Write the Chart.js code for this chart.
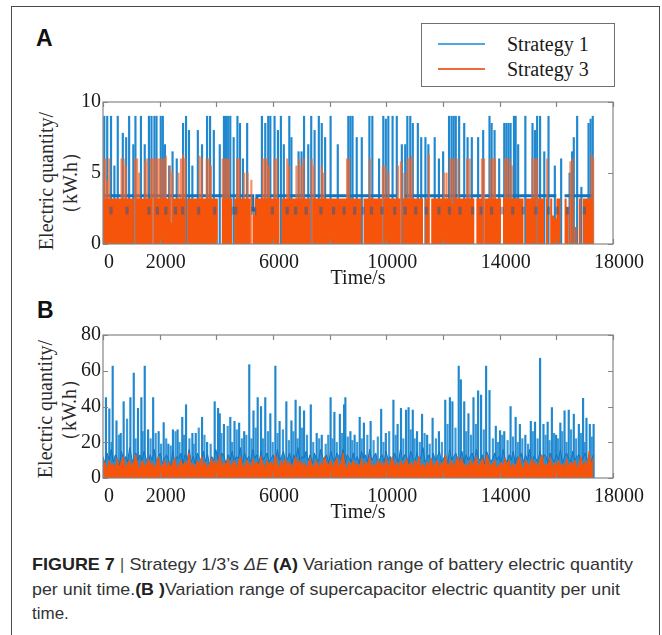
<!DOCTYPE html>
<html lang="en">

<head>
    <meta charset="UTF-8" />
    <title>Figure 7 - Strategy 1/3 ΔE</title>
    <script src="https://cdn.jsdelivr.net/npm/chart.js"></script>
    <style>
        body {
            margin: 0;
            background: #ffffff;
            width: 662px;
            height: 635px;
            overflow: hidden;
            position: relative;
            font-family: "Liberation Serif", serif;
        }

        #fig {
            position: absolute;
            left: 11px;
            top: 6px;
            width: 647px;
            height: 660px;
            border: 1.5px solid #4a4a4a;
        }

        .plabel {
            position: absolute;
            font: bold 23px/23px "Liberation Sans", Arial, sans-serif;
            color: #111;
        }

        .box {
            position: absolute;
            left: 20px;
            width: 640px;
        }

        .ytitle {
            position: absolute;
            font-size: 20px;
            line-height: 20px;
            color: #2a2a2a;
            white-space: nowrap;
            transform: translate(-50%, -50%) rotate(-90deg);
        }

        #legend {
            position: absolute;
            left: 421px;
            top: 23px;
            width: 192px;
            height: 62px;
            border: 1px solid #707070;
            background: #fff;
        }

        .lrow {
            position: absolute;
            left: 0;
            height: 24px;
            width: 190px;
        }

        .lline {
            position: absolute;
            left: 16px;
            top: 11px;
            width: 47px;
            height: 2px;
        }

        .ltext {
            position: absolute;
            left: 85px;
            top: 0;
            font-size: 20px;
            line-height: 24px;
            color: #1a1a1a;
        }

        .cap {
            position: absolute;
            left: 32px;
            font: 17px/20px "Liberation Sans", Arial, sans-serif;
            color: #333;
            white-space: nowrap;
            transform-origin: left center;
        }

        .cap b {
            color: #222;
        }

        .cap .bar {
            color: #555;
            font-weight: normal;
        }
    </style>
</head>

<body>
    <div id="fig"></div>
    <div class="plabel" style="left:36px;top:27px">A</div>
    <div class="plabel" style="left:37px;top:299px">B</div>
    <div id="legend"></div>

    <div class="ytitle" style="left:46px;top:181px">Electric quantity/</div>
    <div class="ytitle" style="left:70px;top:183px">（kW.h）</div>
    <div class="ytitle" style="left:45px;top:409px">Electric quantity/</div>
    <div class="ytitle" style="left:69px;top:410px">（kW.h）</div>

    <div class="box" style="top:88px;height:205px"><canvas id="chartA"></canvas></div>
    <div class="box" style="top:321px;height:206px"><canvas id="chartB"></canvas></div>

    <div class="cap" data-w="601" style="top:555px"><b>FIGURE 7</b> <span class="bar">|</span> Strategy 1/3’s <i>ΔE</i> <b>(A)</b> Variation range of battery electric quantity</div>
    <div class="cap" data-w="588" style="top:580px">per unit time.<b>(B )</b>Variation range of supercapacitor electric quantity per unit</div>
    <div class="cap" style="top:604px">time.</div>

    <script>
        // ---- data ----
        const seriesNames = ["Strategy 1", "Strategy 3"];
        const xTickLabels = [0, 2000, 6000, 10000, 14000, 18000];
        const sampleStep = 72.4; // s between samples of the level arrays below

        // (A) battery: Strategy 1 spikes (time s, kW.h)
        const aS1SpikeT = [45, 149, 283, 402, 521, 699, 818, 922, 1071, 1145,
            1339, 1473, 1621, 1711, 1815, 1889, 2038, 2112, 2187, 2336,
            2455, 2603, 2826, 2931, 3035, 3154, 3347, 3496, 3674, 3779,
            3912, 4121, 4269, 4344, 4418, 4493, 4612, 4745, 4835, 4939,
            5088, 5608, 5727, 5831, 5906, 6055, 6174, 6278, 6382, 6575,
            6650, 6902, 7007, 7096, 7245, 7349, 7468, 7617, 7721, 7840,
            8033, 8286, 8658, 8732, 8807, 8955, 9134, 9402, 9506, 9744,
            9893, 9982, 10071, 10220, 10369, 10547, 10666, 10741, 10845, 10934,
            11112, 11231, 11380, 11484, 11707, 11856, 12005, 12213, 12302, 12377,
            12451, 12570, 12749, 12868, 13017, 13240, 13418, 13641, 13716, 13820,
            13983, 14162, 14236, 14311, 14385, 14504, 14564, 14653, 14906, 15159,
            15248, 15322, 15427, 15575, 15724, 15947, 16170, 16468, 16557, 16616,
            16735, 16884, 17137, 17211, 17286];
        const aS1SpikeV = [9, 9, 9, 5.5, 9, 7.8, 7.5, 9, 7, 9,
            9, 7, 9, 9, 9, 9, 9, 9, 7, 5.5,
            6.5, 6, 8.5, 9, 8, 5.5, 8, 7, 9, 9,
            8, 7, 9, 9, 9, 9, 7.5, 9, 8.5, 6,
            8.5, 9, 8.5, 9, 9, 9, 8, 9, 7, 9,
            7.5, 6.5, 6.5, 9, 7, 9, 8, 9, 8.5, 7.5,
            9, 7, 9, 9, 9, 7.5, 7.5, 9, 9, 6,
            9, 8.8, 9, 9, 9, 7, 7, 9, 9, 8.5,
            8.5, 7.5, 7.5, 7, 7.5, 6, 6.5, 9, 9, 9,
            9, 9, 8.5, 7.5, 7.5, 7.5, 8, 9, 8.5, 8,
            6, 8.5, 8.5, 8.5, 8.5, 9, 9, 7, 9, 8.5,
            8, 9, 9, 6.5, 9, 5.5, 6, 5, 6.5, 7.5,
            9, 4, 8.5, 8.8, 9];
        // Strategy 1 plateau level
        const aS1Level = [3.4, 3.4, 3.4, 3.4, 3.4, 3.4, 3.4, 3.4, 3.4, 3.4, 3.4, 3.4, 3.4, 3.4, 3.4, 3.4, 3.4, 3.4, 3.4, 3.4,
            3.4, 3.4, 3.4, 3.4, 3.4, 3.4, 3.4, 3.4, 3.4, 3.4, 3.4, 3.4, 3.4, 3.4, 3.4, 3.4, 3.4, 3.4, 3.4, 3.4,
            3.4, 3.4, 3.4, 3.4, 3.4, 3.4, 3.4, 3.4, 3.4, 3.4, 3.4, 3.4, 3.4, 3.4, 3.4, 3.4, 3.4, 3.4, 3.4, 3.4,
            3.4, 3.4, 3.4, 3.4, 3.4, 3.4, 3.4, 3.4, 3.4, 3.4, 3.4, 3.4, 3.4, 2.4, 2.4, 3.4, 3.4, 3.4, 3.4, 3.4,
            3.4, 3.4, 3.4, 3.4, 3.4, 3.4, 3.4, 3.4, 3.4, 3.4, 3.4, 3.4, 3.4, 3.4, 3.4, 3.4, 3.4, 3.4, 3.4, 3.4,
            3.4, 3.4, 3.4, 3.4, 3.4, 3.4, 3.4, 3.4, 3.4, 3.4, 3.4, 3.4, 3.4, 3.4, 3.4, 3.4, 3.4, 3.4, 3.4, 3.4,
            3.4, 3.4, 3.4, 3.4, 3.4, 3.4, 3.4, 3.4, 3.4, 3.4, 3.4, 3.4, 3.4, 3.4, 3.4, 3.4, 3.4, 3.4, 3.4, 3.4,
            3.4, 3.4, 3.4, 3.4, null, null, null, 3.4, 3.4, 3.4, 3.4, 3.4, 3.4, 3.4, 3.4, 3.4, 3.4, 3.4, 3.4, 3.4,
            3.4, 3.4, 3.4, 3.4, 3.4, 3.4, 3.4, 3.4, 3.4, 3.4, 3.4, 3.4, 3.4, 3.4, 3.4, 3.4, 3.4, 3.4, 3.4, 3.4,
            3.4, 3.4, 3.4, 3.4, 3.4, 3.4, 3.4, 3.4, 3.4, 3.4, 3.4, 3.4, 3.4, 3.4, 3.4, 3.4, 3.4, 3.4, 3.4, 3.4,
            3.4, 3.4, 3.4, 3.4, 3.4, 3.4, 3.4, 3.4, 3.4, 3.4, 3.4, 3.4, 3.4, 3.4, 3.4, 3.4, 3.4, 3.4, 3.4, 3.4,
            3.4, 3.4, null, null, null, 3.4, 3.4, 3.4, 3.4, 3.4, 3.4, 3.4, 3.4, 3.4, 3.4, 3.4, 3.4, 3.4, 3.4, 3.4];
        // Strategy 1 dips seen through the Strategy 3 band (time s)
        const aS1DipT = [283, 848, 1621, 1919, 2217, 2559, 2812, 3377, 3942, 4597, 4686, 5281, 5355, 5980,
            6501, 6798, 7170, 7691, 8137, 8509, 8881, 9178, 9476, 9848, 10294, 10666, 11038, 11410,
            11856, 12228, 12600, 13046, 13344, 13716, 14088, 14460, 14832, 15278, 15724, 16021, 16393, 16988];
        const aS1DipRange = [2.1, 2.6];

        // (A) battery: Strategy 3 spikes and level
        const aS3SpikeT = [30, 89, 149, 223, 655, 729, 803, 1131, 1205, 1279,
            1488, 1562, 1696, 1770, 1845, 1919, 1993, 2068, 2142, 2217,
            2365, 2440, 2663, 2752, 2826, 2901, 3407, 3481, 3659, 3734,
            3808, 4225, 4299, 4374, 4448, 4731, 4805, 4983, 5102, 5236,
            5638, 5712, 5787, 5861, 6055, 6129, 6501, 6561, 6828, 6917,
            7007, 7081, 7364, 7438, 7721, 7795, 8613, 8687, 9416, 9878,
            9967, 10071, 10413, 10517, 10636, 10755, 10830, 10904, 11499, 12035,
            12124, 12258, 12332, 12406, 12540, 12853, 12942, 13374, 13448, 13671,
            13760, 13835, 14192, 14266, 14355, 14430, 15159, 15248, 15322, 15679,
            16497, 16572, 17241, 17300];
        const aS3SpikeV = [6, 6, 4.5, 6, 6, 6, 5.5, 6, 6, 5,
            5.8, 6, 6, 6, 6, 6, 6, 6, 6, 6.2,
            5.5, 5, 5, 6, 6.3, 6, 6.2, 6, 6, 6,
            5.5, 6, 6, 6, 6, 6, 6, 5, 5, 4.5,
            6, 6, 6, 5.5, 6, 6, 6, 5.5, 5.5, 6,
            5.5, 6, 6, 5.5, 5.5, 5, 6, 6, 6, 5.5,
            5.5, 5, 5.5, 5.8, 5, 6, 6, 6.2, 6.3, 5,
            5, 6, 6, 6, 6, 6, 6, 6, 6, 6,
            6, 6, 6, 6, 6, 5.5, 6, 6, 6, 6,
            5.8, 6, 6.3, 6];
        const aS3Level = [3.2, 3.2, 3.2, 3.2, 3.2, 3.2, 3.2, 3.2, 3.2, 3.2, 3.2, 3.2, 3.2, 3.2, 3.2, 0, 3.2, 3.2, 3.2, 3.2,
            3.2, 3.2, 3.2, 3.2, 0, 3.2, 3.2, 3.2, 3.2, 3.2, 3.2, 3.2, 3.2, 1.5, 3.2, 3.2, 3.2, 3.2, 3.2, 3.2,
            0, 3.2, 3.2, 3.2, 3.2, 3.2, 3.2, 3.2, 3.2, 3.2, 3.2, 3.2, 3.2, 3.2, 3.2, 3.2, 0, 0, 3.2, 3.2,
            3.2, 3.2, 3.2, 0, 3.2, 3.2, 3.2, 3.2, 3.2, 3.2, 3.2, 3.2, 0, 2.1, 3.2, 3.2, 3.2, 3.2, 3.2, 3.2,
            3.2, 3.2, 3.2, 3.2, 3.2, 3.2, 0, 3.2, 3.2, 3.2, 3.2, 3.2, 3.2, 3.2, 3.2, 3.2, 3.2, 3.2, 3.2, 3.2,
            3.2, 0, 3.2, 3.2, 3.2, 3.2, 3.2, 3.2, 3.2, 3.2, 3.2, 3.2, 3.2, 3.2, 3.2, 3.2, 3.2, 3.2, 3.2, 3.2,
            3.2, 3.2, 3.2, 3.2, 3.2, 3.2, 0, 3.2, 3.2, 3.2, 3.2, 3.2, 3.2, 3.2, 3.2, 3.2, 0, 3.2, 3.2, 3.2,
            3.2, 3.2, 3.2, 3.2, 3.2, 0, 3.2, 3.2, 3.2, 3.2, 3.2, 3.2, 3.2, 3.2, 3.2, 3.2, 0, 3.2, 3.2, 0,
            3.2, 3.2, 3.2, 3.2, 3.2, 3.2, 3.2, 3.2, 3.2, 3.2, 2.8, 3.2, 3.2, 3.2, 3.2, 3.2, 3.2, 3.2, 3.2, 3.2,
            3.2, 0, 3.2, 3.2, 3.2, 0, 3.2, 3.2, 3.2, 3.2, 3.2, 3.2, 3.2, 3.2, 0, 3.2, 3.2, 3.2, 3.2, 3.2,
            3.2, 3.2, 3.2, 3.2, 3.2, 0, 3.2, 3.2, 3.2, 3.2, 3.2, 0, 3.2, 3.2, 3.2, 0, 3.2, 0, 3.2, 2.0,
            1.8, 3.2, 3.2, 0, 0, 3.2, 2.6, 0, 3.2, 0, 1.2, 0, 3.2, 0, 3.2, 3.2, 3.2, 3.2, 3.2, 3.2];

        // (B) supercapacitor: Strategy 1 spikes (tall and medium) and running level
        const bS1SpikeT = [104, 223, 342, 476, 625, 729, 967, 1086, 1235, 1354,
            1473, 1592, 1770, 1964, 2142, 2306, 2469, 2633, 2797, 2931,
            3154, 3273, 3496, 3674, 3942, 4061, 4121, 4269, 4493, 4641,
            4805, 4983, 5162, 5311, 5460, 5578, 5727, 5906, 6084, 6233,
            6471, 6650, 6798, 6947, 7096, 7334, 7542, 7721, 8033, 8167,
            8360, 8509, 8554, 8732, 8881, 9060, 9208, 9446, 9818, 9982,
            10250, 10398, 10517, 10696, 10785, 10934, 11083, 11261, 11440, 11633,
            11856, 12079, 12243, 12332, 12555, 12630, 12749, 12898, 13076, 13240,
            13344, 13522, 13641, 13864, 14013, 14162, 14385, 14564, 14713, 14906,
            15099, 15248, 15427, 15546, 15694, 15843, 15992, 16141, 16290, 16438,
            16617, 16795, 16944, 17063, 17182, 17316];
        const bS1SpikeV = [45, 38.7, 62.6, 32, 25, 42.7, 45, 58.7, 39, 45,
            62.6, 27, 45, 26, 31, 19, 27, 27, 34, 41,
            25, 25, 34, 20, 42.7, 39, 36, 30, 34, 31.7,
            30.8, 26, 63.4, 37.6, 45, 40, 45, 36, 62.6, 31.7,
            42.7, 32, 43.6, 40, 37.6, 41, 25, 24, 45, 36.8,
            35.7, 41, 45, 26, 24, 34, 30.8, 31.7, 38.5, 25,
            43.6, 30, 39, 38, 39.4, 38, 26, 35.7, 24, 33.5,
            26, 43.6, 45, 42.7, 62.6, 55, 42.7, 36, 45, 48.8,
            46.4, 62.6, 49, 29, 26.5, 26, 40, 34, 30, 24,
            31.7, 31.3, 67, 30, 31.3, 39.4, 24, 30.8, 37.6, 38,
            35.7, 30, 44.6, 33.5, 30, 30];
        const bS1MidT = [300, 560, 850, 1150, 1400, 1680, 1860, 2050, 2230, 2390,
            2560, 2700, 2860, 3050, 3200, 3380, 3580, 3800, 4180, 4400,
            4560, 4720, 4900, 5060, 5240, 5390, 5650, 5820, 5990, 6160,
            6350, 6560, 6720, 6870, 7020, 7200, 7420, 7630, 7860, 7950,
            8100, 8250, 8440, 8640, 8800, 8970, 9130, 9330, 9550, 9700,
            9900, 10100, 10330, 10600, 10860, 11000, 11180, 11350, 11530, 11750,
            11960, 12160, 12440, 12820, 12990, 13160, 13440, 13760, 13940, 14090,
            14280, 14470, 14640, 14800, 15000, 15170, 15340, 15620, 15760, 15920,
            16060, 16210, 16360, 16520, 16700, 16870, 17000, 17250];
        const bS1MidV = [20, 24, 33, 22, 26, 22, 25, 19, 22, 18,
            26, 20, 24, 22, 19, 28, 24, 19, 25, 29,
            20, 27, 22, 24, 22, 28, 22, 26, 20, 25,
            27, 21, 26, 22, 28, 24, 20, 22, 19, 24,
            22, 20, 25, 23, 21, 20, 22, 24, 21, 23,
            20, 26, 24, 22, 27, 22, 20, 25, 19, 22,
            20, 30, 28, 26, 24, 30, 27, 22, 20, 24,
            21, 23, 20, 22, 19, 26, 22, 24, 21, 25,
            22, 26, 20, 27, 22, 25, 20, 23];
        const bS1Level = [12, 8, 14, 10, 16, 9, 13, 11, 7, 15, 10, 12, 9, 17, 11, 8, 14, 10, 13, 9,
            15, 11, 8, 13, 10, 16, 9, 12, 14, 8, 11, 13, 10, 7, 15, 9, 12, 11, 14, 8,
            13, 10, 16, 9, 12, 8, 14, 11, 10, 15, 9, 13, 7, 12, 10, 16, 11, 9, 14, 12,
            8, 13, 10, 15, 9, 12, 11, 17, 8, 14, 10, 12, 9, 16, 11, 13, 8, 15, 10, 12,
            14, 9, 11, 13, 8, 16, 10, 12, 15, 9, 11, 14, 8, 13, 10, 17, 9, 12, 11, 15,
            10, 13, 8, 14, 11, 9, 16, 12, 10, 13, 8, 15, 11, 9, 14, 12, 10, 16, 8, 13,
            11, 9, 14, 10, 12, 8, 15, 11, 13, 9, 16, 10, 12, 14, 8, 11, 13, 9, 15, 10,
            12, 8, 14, 11, 9, 16, 10, 13, 12, 8, 15, 11, 9, 14, 10, 12, 17, 9, 11, 13,
            8, 14, 10, 12, 15, 9, 11, 13, 8, 16, 10, 12, 14, 9, 11, 15, 8, 13, 10, 12,
            14, 9, 16, 11, 10, 13, 8, 15, 12, 9, 11, 14, 10, 12, 8, 16, 11, 9, 13, 10,
            15, 8, 12, 11, 14, 9, 13, 10, 16, 8, 12, 11, 9, 15, 10, 13, 12, 8, 14, 11,
            9, 13, 10, 16, 8, 12, 14, 11, 9, 15, 10, 12, 13, 8, 11, 14, 10, 12, 9, 13];
        // (B) Strategy 3 running level
        const bS3Level = [6, 9, 4, 10, 7, 8, 5, 11, 6, 9, 12, 5, 8, 10, 6, 9, 13, 7, 5, 10,
            8, 6, 11, 7, 9, 5, 8, 12, 6, 7, 10, 5, 9, 6, 8, 11, 5, 7, 10, 6,
            9, 7, 14, 6, 8, 5, 10, 7, 12, 6, 9, 5, 8, 11, 6, 10, 7, 13, 5, 9,
            7, 11, 6, 8, 10, 5, 9, 12, 7, 6, 10, 8, 5, 11, 7, 9, 6, 12, 8, 5,
            10, 7, 9, 6, 13, 8, 5, 10, 7, 11, 6, 9, 5, 8, 12, 7, 10, 6, 9, 5,
            8, 11, 6, 7, 10, 5, 9, 6, 12, 8, 7, 10, 5, 9, 11, 6, 8, 14, 7, 5,
            9, 6, 10, 7, 8, 5, 11, 6, 9, 7, 12, 5, 8, 6, 10, 7, 9, 5, 11, 6,
            8, 12, 6, 9, 5, 10, 7, 8, 11, 6, 9, 5, 10, 7, 12, 6, 8, 5, 9, 7,
            11, 6, 8, 10, 5, 9, 7, 13, 6, 8, 10, 5, 9, 12, 7, 11, 6, 8, 5, 10,
            7, 9, 12, 6, 8, 11, 5, 13, 9, 6, 8, 10, 5, 7, 9, 6, 11, 7, 10, 5,
            8, 6, 9, 12, 7, 5, 10, 8, 6, 11, 7, 9, 5, 10, 13, 6, 8, 7, 12, 5,
            9, 6, 10, 7, 8, 5, 11, 6, 9, 7, 10, 5, 8, 12, 6, 9, 7, 15, 8, 11];

        // ---- styling ----
        const BLUE = "#1f88cf";
        const BLUE_DARK = "#1473bd";
        const ORANGE = "#f5540a";
        const ORANGE_SPIKE = "rgba(245, 98, 36, 0.72)";
        const legendColors = ["#4aa9de", "#ef6a3a"];
        const TEXT = "#1a1a1a";
        const serif = "'Liberation Serif', 'Times New Roman', serif";

        const toLevels = vals => vals.map((v, i) => ({ x: i * sampleStep, y: v }));
        const toBars = (ts, vs) => ts.map((t, i) => ({ x: t, y: vs[i] }));

        // plot frame with inward tick marks on all four sides (MATLAB look)
        const framePlugin = {
            id: "frame",
            afterDraw(chart) {
                const { ctx, chartArea: a, scales: { x, y } } = chart;
                const len = 5;
                ctx.save();
                ctx.strokeStyle = "#858585";
                ctx.lineWidth = 1.2;
                ctx.strokeRect(a.left, a.top, a.width, a.height);
                ctx.beginPath();
                x.ticks.forEach(t => {
                    const px = Math.round(x.getPixelForValue(t.value)) + 0.5;
                    ctx.moveTo(px, a.bottom); ctx.lineTo(px, a.bottom - len);
                    ctx.moveTo(px, a.top); ctx.lineTo(px, a.top + len);
                });
                y.ticks.forEach(t => {
                    const py = Math.round(y.getPixelForValue(t.value)) + 0.5;
                    ctx.moveTo(a.left, py); ctx.lineTo(a.left + len, py);
                    ctx.moveTo(a.right, py); ctx.lineTo(a.right - len, py);
                });
                ctx.stroke();
                ctx.restore();
            }
        };

        function makeOptions(yMax, yStep, xHeight) {
            return {
                responsive: true,
                maintainAspectRatio: false,
                animation: false,
                events: [],
                layout: { padding: { top: 12, right: 47, bottom: 0, left: 0 } },
                plugins: { legend: { display: false }, tooltip: { enabled: false } },
                datasets: { bar: { grouped: false, borderWidth: 0, barThickness: 1.5 } },
                scales: {
                    x: {
                        type: "linear",
                        min: 0,
                        max: 18000,
                        offset: false,
                        grid: { display: false, drawTicks: false },
                        border: { display: false },
                        ticks: {
                            stepSize: 2000,
                            autoSkip: false,
                            maxRotation: 0,
                            padding: 7,
                            labelOffset: 6,
                            color: TEXT,
                            font: { family: serif, size: 20 },
                            callback: v => xTickLabels.includes(v) ? String(v) : ""
                        },
                        title: {
                            display: true,
                            text: "Time/s",
                            color: TEXT,
                            font: { family: serif, size: 20 },
                            padding: { top: 0, bottom: 2 }
                        },
                        afterFit: s => { s.height = xHeight; }
                    },
                    y: {
                        min: 0,
                        max: yMax,
                        grid: { display: false, drawTicks: false },
                        border: { display: false },
                        ticks: {
                            stepSize: yStep,
                            padding: 2,
                            color: TEXT,
                            font: { family: serif, size: 20 }
                        },
                        afterFit: s => { s.width = 83; }
                    }
                }
            };
        }

        // ---- panel A ----
        new Chart(document.getElementById("chartA"), {
            type: "bar",
            data: {
                datasets: [
                    {
                        type: "bar", label: seriesNames[0] + " dips",
                        data: aS1DipT.map(t => ({ x: t, y: aS1DipRange })),
                        backgroundColor: "rgba(30, 92, 160, 0.5)", barThickness: 2.5, order: -1
                    },
                    {
                        type: "line", label: seriesNames[1],
                        data: toLevels(aS3Level), stepped: true, fill: "origin",
                        backgroundColor: ORANGE, borderColor: ORANGE, borderWidth: 0,
                        pointRadius: 0, order: 0
                    },
                    {
                        type: "bar", label: seriesNames[1] + " peaks",
                        data: toBars(aS3SpikeT, aS3SpikeV),
                        backgroundColor: ORANGE_SPIKE, order: 1
                    },
                    {
                        type: "line", label: seriesNames[0],
                        data: toLevels(aS1Level), stepped: true, fill: false, spanGaps: false,
                        borderColor: BLUE_DARK, borderWidth: 3, pointRadius: 0, order: 2
                    },
                    {
                        type: "bar", label: seriesNames[0] + " peaks",
                        data: toBars(aS1SpikeT, aS1SpikeV),
                        backgroundColor: BLUE, order: 3
                    }
                ]
            },
            options: makeOptions(10, 5, 49),
            plugins: [framePlugin]
        });

        // ---- panel B ----
        new Chart(document.getElementById("chartB"), {
            type: "bar",
            data: {
                datasets: [
                    {
                        type: "line", label: seriesNames[1],
                        data: toLevels(bS3Level), fill: "origin",
                        backgroundColor: ORANGE, borderColor: ORANGE, borderWidth: 1,
                        pointRadius: 0, order: 0
                    },
                    {
                        type: "line", label: seriesNames[0],
                        data: toLevels(bS1Level), fill: "origin",
                        backgroundColor: "#2a8ed2", borderColor: BLUE_DARK, borderWidth: 1,
                        pointRadius: 0, order: 1
                    },
                    {
                        type: "bar", label: seriesNames[0] + " peaks",
                        data: toBars(bS1SpikeT, bS1SpikeV),
                        backgroundColor: BLUE, order: 2
                    },
                    {
                        type: "bar", label: seriesNames[0] + " mid",
                        data: toBars(bS1MidT, bS1MidV),
                        backgroundColor: "#3c9ad8", order: 3
                    }
                ]
            },
            options: makeOptions(80, 20, 49),
            plugins: [framePlugin]
        });

        // ---- legend ----
        const legend = document.getElementById("legend");
        seriesNames.forEach((name, i) => {
            const row = document.createElement("div");
            row.className = "lrow";
            row.style.top = (8 + i * 25) + "px";
            row.innerHTML = '<div class="lline" style="background:' + legendColors[i] + '"></div>' +
                '<div class="ltext">' + name + '</div>';
            legend.appendChild(row);
        });

        // ---- caption: squeeze lines to the reference width ----
        document.querySelectorAll(".cap[data-w]").forEach(el => {
            const w = el.getBoundingClientRect().width;
            el.style.transform = "scaleX(" + (Number(el.dataset.w) / w) + ")";
        });
    </script>
</body>

</html>
